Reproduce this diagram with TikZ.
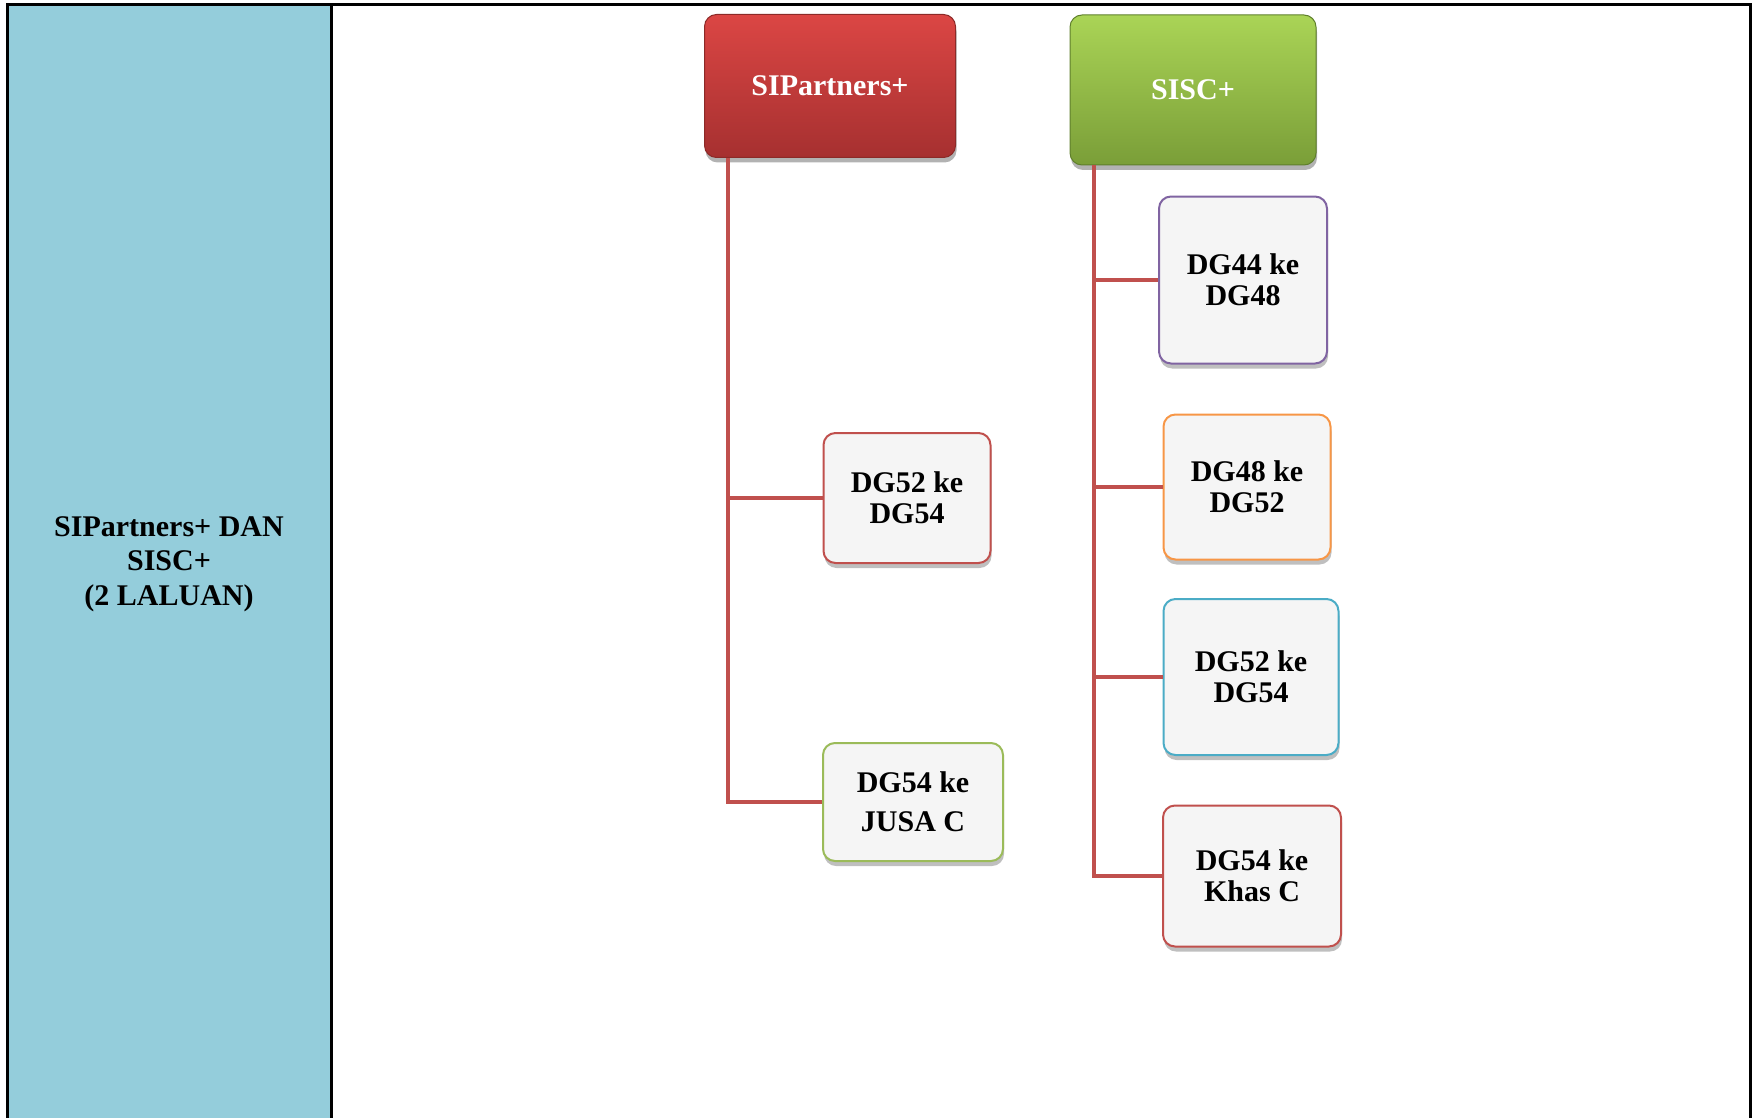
\documentclass[tikz,border=0pt]{standalone}
\usepackage{fontspec}
\setmainfont{Liberation Serif}
\usetikzlibrary{shadows}
\definecolor{cellblue}{HTML}{94CDDB}
\definecolor{linkred}{HTML}{C0504D}
\definecolor{boxfill}{HTML}{F5F5F5}
\definecolor{edgepurple}{HTML}{8064A2}
\definecolor{edgeorange}{HTML}{F79646}
\definecolor{edgeblue}{HTML}{4BACC6}
\definecolor{edgegreen}{HTML}{9BBB59}
\definecolor{headred}{HTML}{8C2A28}
\definecolor{headgreen}{HTML}{5F7F2C}
\begin{document}
\begin{tikzpicture}[x=1pt,y=-1pt,
  header/.style={rounded corners=12pt,draw=#1,line width=1pt,
    text=white,font=\fontsize{30}{34}\selectfont\bfseries,align=center,
    drop shadow={shadow xshift=1pt,shadow yshift=-5pt,opacity=0.3,fill=black}},
  stepbox/.style={rounded corners=12pt,draw=#1,line width=2pt,fill=boxfill,
    font=\fontsize{30}{31}\selectfont\bfseries,align=center,
    drop shadow={shadow xshift=1pt,shadow yshift=-5pt,opacity=0.25,fill=black}},
  branch/.style={linkred,line width=4pt}]
\useasboundingbox (0,0) rectangle (1752,1118);
% table cells
\fill [cellblue] (7,5) rectangle (331,1118);
\draw [line width=3pt] (7,1118) -- (7,5) -- (1750,5) -- (1750,1118);
\draw [line width=3pt] (331,5) -- (331,1118);
\node [font=\fontsize{30}{34.5}\selectfont\bfseries,align=center] (route) at (169,564) {SIPartners+ DAN\\SISC+\\(2 LALUAN)};
% heads
\node [header=headred,top color={rgb,255:red,219;green,70;blue,68},bottom color={rgb,255:red,166;green,48;blue,48},
  minimum width=251pt,minimum height=143pt] (hdA) at (830,86) {SIPartners+};
\node [header=headgreen,top color={rgb,255:red,170;green,212;blue,86},bottom color={rgb,255:red,122;green,158;blue,56},
  minimum width=246pt,minimum height=150pt] (hdB) at (1193,90) {SISC+};
% steps
\node [stepbox=linkred,minimum width=167pt,minimum height=130pt] (stA1) at (907,498) {DG52 ke\\DG54};
\node [stepbox=edgegreen,minimum width=180pt,minimum height=118pt] (stA2) at (913,802) {DG54 ke\\[8pt]JUSA C};
\node [stepbox=edgepurple,minimum width=168pt,minimum height=167pt] (stB1) at (1243,280) {DG44 ke\\DG48};
\node [stepbox=edgeorange,minimum width=167pt,minimum height=145pt] (stB2) at (1247,487) {DG48 ke\\DG52};
\node [stepbox=edgeblue,minimum width=175pt,minimum height=156pt] (stB3) at (1251,677) {DG52 ke\\DG54};
\node [stepbox=linkred,minimum width=178pt,minimum height=141pt] (stB4) at (1252,876) {DG54 ke\\Khas C};
% links
\foreach \s in {stA1,stA2}
  \draw [branch] ([xshift=24pt]hdA.south west) |- (\s.west);
\foreach \s in {stB1,stB2,stB3,stB4}
  \draw [branch] ([xshift=24pt]hdB.south west) |- (\s.west);
\end{tikzpicture}
\end{document}
